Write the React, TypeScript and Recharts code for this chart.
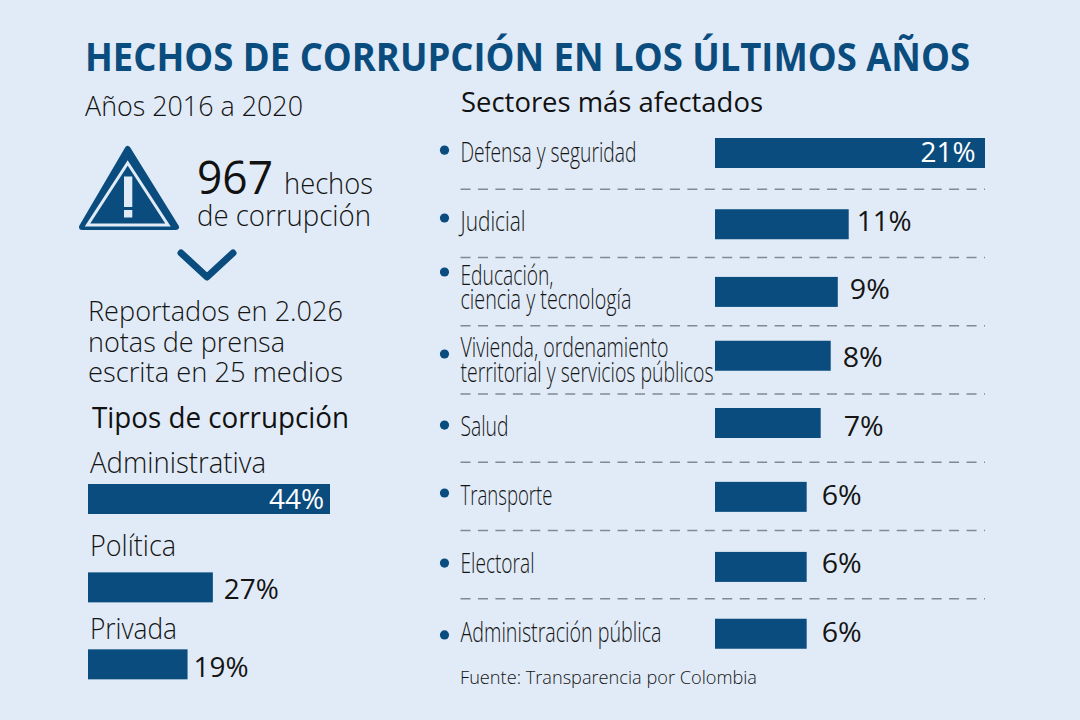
import { BarChart, Bar, XAxis, YAxis } from "recharts";

const BLUE = "#0a4c7e";
const BG = "#e1ebf7";
const INK = "#141414";
const FONT = "'Open Sans', sans-serif";

// Tipos de corrupción
const typeNames = ["Administrativa", "Política", "Privada"];
const typeLabels = ["44%", "27%", "19%"];
// bar lengths as drawn in the source, which does not scale them exactly to the printed figure
const typeLengths = [44, 22.7, 18.1];

// Sectores más afectados
const sectorNames = [
  ["Defensa y seguridad"],
  ["Judicial"],
  ["Educación,", "ciencia y tecnología"],
  ["Vivienda, ordenamiento", "territorial y servicios públicos"],
  ["Salud"],
  ["Transporte"],
  ["Electoral"],
  ["Administración pública"],
];
const sectorLabels = ["21%", "11%", "9%", "8%", "7%", "6%", "6%", "6%"];
const sectorLengths = [21, 10.4, 9.55, 9, 8.22, 7.13, 7.13, 7.13];

const typeData = typeNames.map((name, i) => ({ name, length: typeLengths[i] }));
const sectorData = sectorNames.map((lines, i) => ({ name: lines.join(" "), length: sectorLengths[i] }));

// hand placement quirks of the original, row by row
const typeBarShift = [0, 5.7, 0];
const typeValueDy = [9.7, 17, 12.3];
const typeValueGap = [-6, 11, 6];
const sectorBarShift = [0, 3, 2.4, -2, -3, 2.6, 4.4, 3];
const sectorBaseDy = [9, 9.6, 9.4, 9.1, 9.9, 10.6, 10.4, 11];
const sectorValueGap = [-9.5, 8, 12, 12, 23, 15, 15, 15];
const sectorBulletDy = [-3, -3.4, -17.6, -3.9, -1.1, -1.4, 0.4, 4.1];
const sectorLineWidths = [[176], [65], [93, 171], [208, 253], [48], [92], [74], [201]];
const sectorLineDy = [[9], [9.6], [-4.6, 19.4], [-0.9, 24], [9.9], [10.6], [10.4], [11]];

const typeNameWidths = [176, 86, 87];

function T({ x, y, w, size, weight = 300, fill = INK, anchor = "start", children }: any) {
  return (
    <text
      x={x}
      y={y}
      fontSize={size}
      fontWeight={weight}
      fill={fill}
      fontFamily={FONT}
      textAnchor={anchor}
      textLength={w}
      lengthAdjust="spacingAndGlyphs"
    >
      {children}
    </text>
  );
}

function valueText(label: string, barEnd: number, gap: number, y: number, w: number) {
  if (gap < 0) {
    return (
      <T x={barEnd + gap - w} y={y} w={w} size={28} weight={400} fill="#ffffff">
        {label}
      </T>
    );
  }
  return (
    <T x={barEnd + gap} y={y} w={w} size={28} weight={400}>
      {label}
    </T>
  );
}

function TypeBar(p: any) {
  const i = p.index;
  const cy = p.y + p.height / 2;
  return (
    <g>
      <rect x={p.x} y={p.y + typeBarShift[i]} width={p.width} height={p.height} fill={BLUE} />
      {valueText(typeLabels[i], p.x + p.width, typeValueGap[i], cy + typeValueDy[i], 55)}
    </g>
  );
}

function SectorBar(p: any) {
  const i = p.index;
  const cy = p.y + p.height / 2;
  const w = sectorLabels[i].length === 3 ? 55 : 40;
  return (
    <g>
      <rect x={p.x} y={p.y + sectorBarShift[i]} width={p.width} height={p.height} fill={BLUE} />
      {valueText(sectorLabels[i], p.x + p.width, sectorValueGap[i], cy + sectorBaseDy[i], w)}
    </g>
  );
}

function TypeTick({ y, index }: any) {
  return (
    <T x={90} y={y - 26} w={typeNameWidths[index]} size={29}>
      {typeNames[index]}
    </T>
  );
}

function SectorTick({ y, index }: any) {
  const left = 30.5;
  return (
    <g>
      <circle cx={14.5} cy={y + sectorBulletDy[index]} r={4.6} fill={BLUE} />
      {sectorNames[index].map((line, j) => (
        <T key={line} x={left} y={y + sectorLineDy[index][j]} w={sectorLineWidths[index][j]} size={27}>
          {line}
        </T>
      ))}
      {index < sectorNames.length - 1 && (
        <line
          x1={left}
          x2={555}
          y1={y + 36}
          y2={y + 36}
          stroke="#7d8a97"
          strokeWidth={1.5}
          strokeDasharray="10 7.45"
        />
      )}
    </g>
  );
}

export default function App() {
  return (
    <div style={{ position: "absolute", left: 0, top: 0, width: 1080, height: 720, background: BG, overflow: "hidden" }}>
      <svg width={1080} height={720} style={{ position: "absolute", left: 0, top: 0 }}>
        <T x={85} y={71} w={885} size={38.5} weight={700} fill={BLUE}>
          HECHOS DE CORRUPCIÓN EN LOS ÚLTIMOS AÑOS
        </T>
        <T x={85} y={116} w={218} size={28}>Años 2016 a 2020</T>

        {/* warning sign */}
        <path d="M127.7 149 L176 227 L82 227 Z" fill={BLUE} stroke={BLUE} strokeWidth={6} strokeLinejoin="round" />
        <path d="M127.7 163 L168 225 L87.5 225 Z" fill={BLUE} stroke={BG} strokeWidth={3} strokeLinejoin="miter" />
        <rect x={124} y={176.5} width={8.3} height={30.5} fill={BG} />
        <rect x={124} y={210} width={8.3} height={7.5} fill={BG} />
        <polyline points="181,253 207,277 233,253" fill="none" stroke={BLUE} strokeWidth={7} strokeLinecap="round" strokeLinejoin="round" />

        <T x={197} y={194} w={76} size={46} weight={400} fill="#111111">967</T>
        <T x={284} y={194} w={89} size={29}>hechos</T>
        <T x={197} y={226} w={174} size={29}>de corrupción</T>
        <T x={88} y={321} w={255} size={28}>Reportados en 2.026</T>
        <T x={88} y={352} w={197} size={28}>notas de prensa</T>
        <T x={88} y={382} w={255} size={28}>escrita en 25 medios</T>
        <T x={92} y={428} w={257} size={29} weight={400} fill="#111111">Tipos de corrupción</T>
        <T x={461} y={112} w={302} size={28} weight={400} fill="#111111">Sectores más afectados</T>
        <T x={460} y={684} w={297} size={19}>Fuente: Transparencia por Colombia</T>
      </svg>

      <div style={{ position: "absolute", left: 0, top: 433 }}>
        <BarChart
          width={400}
          height={273}
          layout="vertical"
          data={typeData}
          margin={{ top: 25, right: 70, bottom: 0, left: 0 }}
        >
          <XAxis type="number" hide domain={[0, 44]} />
          <YAxis
            type="category"
            dataKey="name"
            width={88}
            interval={0}
            axisLine={false}
            tickLine={false}
            tick={<TypeTick />}
          />
          <Bar dataKey="length" barSize={30} isAnimationActive={false} shape={<TypeBar />} />
        </BarChart>
      </div>

      <div style={{ position: "absolute", left: 430, top: 119 }}>
        <BarChart
          width={650}
          height={546}
          layout="vertical"
          data={sectorData}
          margin={{ top: 0, right: 95, bottom: 0, left: 0 }}
        >
          <XAxis type="number" hide domain={[0, 21]} />
          <YAxis
            type="category"
            dataKey="name"
            width={285}
            interval={0}
            axisLine={false}
            tickLine={false}
            tick={<SectorTick />}
          />
          <Bar dataKey="length" barSize={30} isAnimationActive={false} shape={<SectorBar />} />
        </BarChart>
      </div>
    </div>
  );
}
